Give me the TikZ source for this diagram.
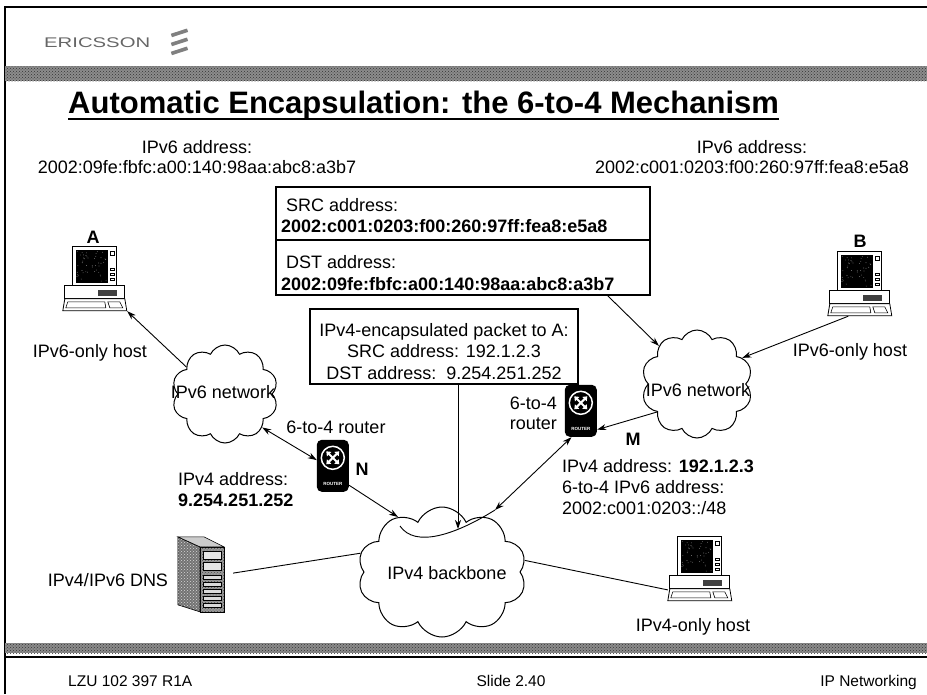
\documentclass[tikz,border=0pt]{standalone}
\usepackage{fontspec}
\setmainfont{Liberation Sans}
\usetikzlibrary{shapes.symbols,arrows.meta,patterns,calc}

\tikzset{
  % desktop workstation: monitor, system unit, keyboard (64 x 64)
  computer/.pic={
    \draw[line width=0.8pt, fill=white] (10,0) rectangle (54,39);
    \fill[black] (13,3) rectangle (45,36);
    \pgfmathsetseed{11}
    \foreach \i in {1,...,45} \fill[white!80!black] (14+rnd*30,4+rnd*31) circle (0.35);
    \draw[line width=0.5pt] (47,4) rectangle (51,8);
    \foreach \yy in {21,26,31} \draw[line width=0.5pt] (47,\yy) rectangle (51,\yy+2);
    \draw[line width=0.8pt, fill=white] (2,39) rectangle (62,52);
    \fill[black!75] (35,43) rectangle (54,49);
    \draw[line width=0.8pt, fill=white] (2,52) -- (62,52) -- (64,64) -- (0,64) -- cycle;
    \draw[line width=0.6pt] (5,55) -- (42,55) -- (43,61) -- (3,61) -- cycle;
    \draw[line width=0.6pt] (45,55) -- (57,55) -- (60,61) -- (47,61) -- cycle;
  },
  % router icon (32 x 52)
  router/.pic={
    \fill[black, rounded corners=5pt] (0,0) rectangle (32,52);
    \draw[white, line width=1.5pt, fill=black] (16,18) circle (11.5);
    \draw[white, line width=2pt, {Triangle[length=4pt,width=6pt]}-{Triangle[length=4pt,width=6pt]}] (9.5,11.5) -- (22.5,24.5);
    \draw[white, line width=2pt, {Triangle[length=4pt,width=6pt]}-{Triangle[length=4pt,width=6pt]}] (22.5,11.5) -- (9.5,24.5);
    \node[white, font=\fontsize{4.5}{5}\selectfont\bfseries, inner sep=0pt] (-lbl) at (16,44) {ROUTER};
  },
  % tower server (46 x 75)
  tower/.pic={
    \fill[black!55] (0,0) -- (22,10) -- (22,75) -- (0,68) -- cycle;
    \fill[pattern=crosshatch dots, pattern color=black!15] (0,0) -- (22,10) -- (22,75) -- (0,68) -- cycle;
    \draw[line width=0.6pt] (0,0) -- (22,10) -- (22,75) -- (0,68) -- cycle;
    \draw[line width=0.6pt, fill=black!20] (0,0) -- (26,0) -- (46,10) -- (22,10) -- cycle;
    \draw[line width=0.6pt, fill=black!40] (22,10) rectangle (46,75);
    \fill[pattern=crosshatch dots, pattern color=black!70] (22,10) rectangle (46,75);
    \foreach \yy in {14,25} \draw[line width=0.5pt, fill=black!10] (25,\yy) rectangle (43,\yy+8);
    \foreach \yy in {38,45,52,59,66} \draw[line width=0.5pt, fill=black!15] (25,\yy) rectangle (43,\yy+4);
  }
}

\begin{document}
\begin{tikzpicture}[x=1pt, y=-1pt,
  txt/.style={font=\fontsize{18}{21}\selectfont, inner sep=0pt},
  btxt/.style={font=\fontsize{18}{21}\selectfont\bfseries, inner sep=0pt},
  foot/.style={font=\fontsize{15.5}{18}\selectfont, inner sep=0pt},
  cloudnode/.style={cloud, draw, line width=1pt, cloud puffs=10, cloud puff arc=130,
                    cloud ignores aspect, inner sep=0pt},
  hostbox/.style={minimum width=64pt, minimum height=64pt, inner sep=0pt},
  routerbox/.style={minimum width=32pt, minimum height=52pt, inner sep=0pt},
  addrbox/.style={draw, line width=1.2pt, minimum width=374pt, inner sep=0pt},
  wire/.style={line width=0.9pt},
  arrowend/.style={-{Stealth[length=9pt,width=6pt]}},
  arrowboth/.style={{Stealth[length=9pt,width=6pt]}-{Stealth[length=9pt,width=6pt]}},
  band/.style={fill=black!45, postaction={pattern=crosshatch dots, pattern color=black!80}}
]
\useasboundingbox (0,0) rectangle (927,694);

% slide frame, header and footer bands
\draw[line width=1.4pt] (5,694) -- (5,7) -- (927,7);
\path[band] (5,66) rectangle (927,81);
\path[band] (5,643) rectangle (927,653);
\draw[line width=1.4pt] (5,657) -- (927,657);

% company logo
\node[anchor=west, inner sep=0pt, text=black!60, font=\fontsize{14}{14}\selectfont] (logo) at (44,43) {\scalebox{1.45}[1]{ERICSSON}};
\foreach \yy in {33,42,51} \fill[black!50, rotate around={18:(179,\yy)}] (171,\yy-1.8) rectangle (188,\yy+1.8);

% title
\node[anchor=base west, inner sep=0pt, font=\fontsize{31}{36}\selectfont\bfseries] (title) at (68,113) {Automatic Encapsulation: the 6-to-4 Mechanism};
\draw[line width=2.4pt] ($(title.base west)+(0,6)$) -- ($(title.base east)+(0,6)$);

% host addresses
\node[txt, anchor=base] (alab) at (197,153) {IPv6 address:};
\node[txt, anchor=base] (aaddr) at (197,173) {2002:09fe:fbfc:a00:140:98aa:abc8:a3b7};
\node[txt, anchor=base] (blab) at (752,153) {IPv6 address:};
\node[txt, anchor=base] (baddr) at (752,173) {2002:c001:0203:f00:260:97ff:fea8:e5a8};

% IPv6 header addresses
\node[addrbox, minimum height=53pt] (srcbox) at (463,213.5) {};
\node[addrbox, minimum height=55pt] (dstbox) at (463,267.5) {};
\node[txt, anchor=base west] (srclab) at (286,211) {SRC address:};
\node[btxt, anchor=base west] (srcval) at (281,232) {2002:c001:0203:f00:260:97ff:fea8:e5a8};
\node[txt, anchor=base west] (dstlab) at (286,268) {DST address:};
\node[btxt, anchor=base west] (dstval) at (281,290) {2002:09fe:fbfc:a00:140:98aa:abc8:a3b7};

% encapsulated packet
\node[draw, line width=1.2pt, minimum width=268pt, minimum height=75pt, inner sep=0pt] (pkt) at (444,346.5) {};
\node[txt, anchor=base] (pkt1) at (444,336) {IPv4-encapsulated packet to A:};
\node[txt, anchor=base] (pkt2) at (444,357) {SRC address: 192.1.2.3};
\node[txt, anchor=base] (pkt3) at (444,379) {DST address:\ \ 9.254.251.252};

% clouds
\node[cloudnode, minimum width=106pt, minimum height=98pt] (cloudL) at (225,394) {};
\node[txt, anchor=base] (cloudLlab) at (223,398) {IPv6 network};
\node[cloudnode, minimum width=111pt, minimum height=108pt] (cloudR) at (697,384) {};
\node[txt, anchor=base] (cloudRlab) at (698,396) {IPv6 network};
\node[cloudnode, minimum width=169pt, minimum height=130pt] (bb) at (442,572) {};
\node[txt, anchor=base] (bblab) at (447,579) {IPv4 backbone};

% hosts
\node[hostbox] (A) at (95,279) {};
\pic at (A.north west) {computer};
\node[btxt, anchor=base] (Alab) at (93,243) {A};
\node[txt, anchor=base] (Ahost) at (90,357) {IPv6-only host};

\node[hostbox] (B) at (860,284) {};
\pic at (B.north west) {computer};
\node[btxt, anchor=base] (Blab) at (860,247) {B};
\node[txt, anchor=base] (Bhost) at (850,356) {IPv6-only host};

\node[hostbox] (H) at (700,569) {};
\pic at (H.north west) {computer};
\node[txt, anchor=base] (Hhost) at (693,631) {IPv4-only host};

% DNS server
\node[minimum width=46pt, minimum height=75pt, inner sep=0pt] (dns) at (201,574.5) {};
\pic at (dns.north west) {tower};
\node[txt, anchor=base] (dnslab) at (108,586) {IPv4/IPv6 DNS};

% routers
\node[routerbox] (N) at (333,466) {};
\pic (rN) at (N.north west) {router};
\node[txt, anchor=base] (Nrole) at (336,433) {6-to-4 router};
\node[btxt, anchor=base] (Nlab) at (362,475) {N};
\node[txt, anchor=base west] (Nv4) at (178,485) {IPv4 address:};
\node[btxt, anchor=base west] (Nv4val) at (178,506) {9.254.251.252};

\node[routerbox] (M) at (581,411) {};
\pic (rM) at (M.north west) {router};
\node[txt, anchor=base east] (Mrole1) at (557,409) {6-to-4};
\node[txt, anchor=base east] (Mrole2) at (557,429) {router};
\node[btxt, anchor=base] (Mlab) at (633,445) {M};
\node[txt, anchor=base west] (Mv4) at (562,472) {IPv4 address: \textbf{192.1.2.3}};
\node[txt, anchor=base west] (Mv6) at (562,493) {6-to-4 IPv6 address:};
\node[txt, anchor=base west] (Mpfx) at (562,514) {2002:c001:0203::/48};

% packet path through the IPv4 backbone
\coordinate (pathN) at (398,517);
\coordinate (pathL) at (400,526);
\coordinate (pathM) at (495,510);
\coordinate (pathV) at (458,529);

% connectors
\draw[wire, arrowend] (cloudL.145) -- (A.south east);
\draw[wire, arrowboth] (cloudL.-42) -- (N.160);
\draw[wire, arrowend] (N.-50) -- (pathN);
\draw[wire, arrowboth] (M.-110) -- (pathM);
\draw[wire] (pathM) .. controls (455,535) and (415,548) .. (pathL);
\draw[wire, arrowend] (pkt.south -| pathV) -- (pathV);
\draw[wire, arrowend] (dstbox.-11.1) -- (cloudR.135);
\draw[wire, arrowend] (B.-110) -- (cloudR.30);
\draw[wire, arrowend] (cloudR.215) -- (M.-49);
\draw[wire, shorten <=9pt] (dns.east) -- (bb.167);
\draw[wire] (bb.8) -- (H.213);

% footer
\node[foot, anchor=base west] (docid) at (68,686) {LZU 102 397 R1A};
\node[foot, anchor=base] (slide) at (511,686) {Slide 2.40};
\node[foot, anchor=base east] (course) at (917,686) {IP Networking};
\end{tikzpicture}
\end{document}
